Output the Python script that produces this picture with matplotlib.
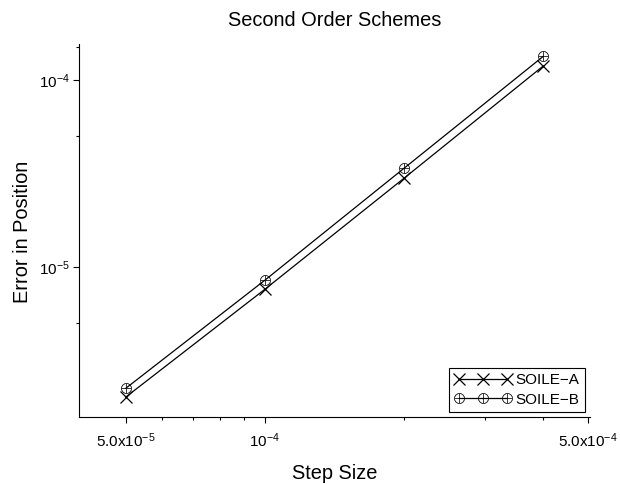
import matplotlib
matplotlib.use("Agg")
import matplotlib.pyplot as plt
from matplotlib.ticker import FixedLocator, NullFormatter

plt.rcParams['font.family'] = ['Liberation Sans', 'DejaVu Sans']
plt.rcParams['mathtext.fontset'] = 'custom'
plt.rcParams['mathtext.rm'] = 'Liberation Sans'
plt.rcParams['mathtext.it'] = 'Liberation Sans'
plt.rcParams['mathtext.sf'] = 'Liberation Sans'

# data
step_size = [5e-5, 1e-4, 2e-4, 4e-4]
err_a = [2.02e-6, 7.62e-6, 2.99e-5, 1.19e-4]
err_b = [2.25e-6, 8.52e-6, 3.38e-5, 1.34e-4]
labels = ["SOILE\u2212A", "SOILE\u2212B"]

x_major = [5e-5, 1e-4, 5e-4]
x_major_labels = [r"$5.0\mathrm{x}10^{-5}$", r"$10^{-4}$", r"$5.0\mathrm{x}10^{-4}$"]
x_minor = [6e-5, 7e-5, 8e-5, 9e-5, 2e-4, 3e-4, 4e-4]
y_major = [1e-5, 1e-4]
y_major_labels = [r"$10^{-5}$", r"$10^{-4}$"]
y_minor = [5e-6, 5e-5, 1.5e-4]

fig = plt.figure(figsize=(6.2, 4.84), dpi=100)
ax = fig.add_axes([0.1274, 0.1384, 0.8242, 0.7706])

ax.plot(step_size, err_a, color='black', lw=0.9, marker='x', ms=8.5, mew=0.9, label=labels[0])
ax.plot(step_size, err_b, color='black', lw=0.9, marker=r'$\oplus$', ms=7.5, mew=0.2, label=labels[1])

ax.set_xscale('log')
ax.set_yscale('log')
ax.set_xlim(3.96e-5, 5.05e-4)
ax.set_ylim(1.58e-6, 1.56e-4)

ax.xaxis.set_major_locator(FixedLocator(x_major))
ax.set_xticklabels(x_major_labels)
ax.xaxis.set_minor_locator(FixedLocator(x_minor))
ax.xaxis.set_minor_formatter(NullFormatter())
ax.yaxis.set_major_locator(FixedLocator(y_major))
ax.set_yticklabels(y_major_labels)
ax.yaxis.set_minor_locator(FixedLocator(y_minor))
ax.yaxis.set_minor_formatter(NullFormatter())

for side in ['top', 'right']:
    ax.spines[side].set_visible(False)
for side in ['left', 'bottom']:
    ax.spines[side].set_linewidth(0.8)
ax.tick_params(which='major', direction='out', length=4.5, width=0.8, labelsize=11)
ax.tick_params(axis='x', which='major', pad=6)
ax.tick_params(axis='y', which='major', pad=2)
ax.tick_params(which='minor', direction='out', length=2.2, width=0.8)

fig.text(0.54, 0.958, "Second Order Schemes", ha='center', va='center', fontsize=14.4)
fig.text(0.54, 0.021, "Step Size", ha='center', va='center', fontsize=14.4)
fig.text(0.037, 0.52, "Error in Position", ha='center', va='center', rotation=90, fontsize=14.4)

leg = ax.legend(loc='lower right', numpoints=3, fancybox=False, edgecolor='black',
                framealpha=1, fontsize=11, handlelength=3.7, handletextpad=0.3,
                borderpad=0.35, labelspacing=0.35, borderaxespad=0.33)
leg.get_frame().set_linewidth(0.8)

fig.savefig("out.png", dpi=100)
